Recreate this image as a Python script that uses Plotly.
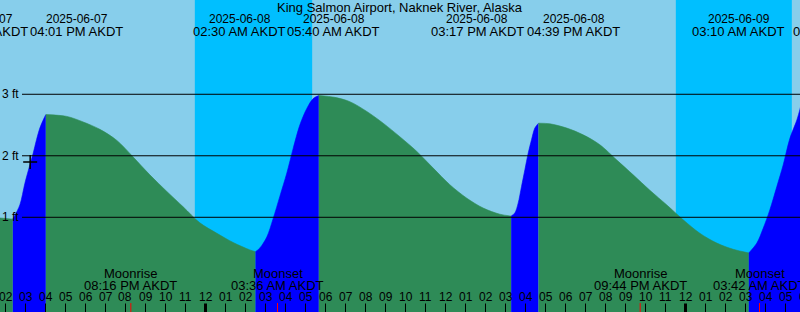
import plotly.graph_objects as go
from datetime import datetime, timedelta

TITLE = "King Salmon Airport, Naknek River, Alaska"

# Tide level samples (AKDT), feet
tide_times = [
    "2025-06-07 13:40", "2025-06-07 14:22",
    "2025-06-07 14:43", "2025-06-07 14:58", "2025-06-07 15:13", "2025-06-07 15:23",
    "2025-06-07 15:33", "2025-06-07 15:43", "2025-06-07 15:53", "2025-06-07 16:01",
    "2025-06-07 17:04", "2025-06-07 17:53", "2025-06-07 18:43", "2025-06-07 19:34",
    "2025-06-07 20:23", "2025-06-07 21:13", "2025-06-07 22:04", "2025-06-07 22:53",
    "2025-06-07 23:43", "2025-06-08 00:34", "2025-06-08 01:23", "2025-06-08 02:13",
    "2025-06-08 02:30",
    "2025-06-08 02:43", "2025-06-08 03:04", "2025-06-08 03:23", "2025-06-08 03:43",
    "2025-06-08 04:04", "2025-06-08 04:23", "2025-06-08 04:43", "2025-06-08 05:04",
    "2025-06-08 05:23", "2025-06-08 05:40",
    "2025-06-08 06:28", "2025-06-08 07:13", "2025-06-08 08:04", "2025-06-08 08:53",
    "2025-06-08 09:43", "2025-06-08 10:34", "2025-06-08 11:23", "2025-06-08 12:13",
    "2025-06-08 13:04", "2025-06-08 13:53", "2025-06-08 14:43", "2025-06-08 15:17",
    "2025-06-08 15:28", "2025-06-08 15:38", "2025-06-08 15:48", "2025-06-08 15:58",
    "2025-06-08 16:08", "2025-06-08 16:18", "2025-06-08 16:28", "2025-06-08 16:39",
    "2025-06-08 17:13", "2025-06-08 18:04", "2025-06-08 18:53", "2025-06-08 19:43",
    "2025-06-08 20:34", "2025-06-08 21:23", "2025-06-08 22:13", "2025-06-08 23:04",
    "2025-06-08 23:53", "2025-06-09 00:43", "2025-06-09 01:34", "2025-06-09 02:23",
    "2025-06-09 03:10",
    "2025-06-09 03:34", "2025-06-09 03:53", "2025-06-09 04:13", "2025-06-09 04:34",
    "2025-06-09 04:53", "2025-06-09 05:13", "2025-06-09 05:34", "2025-06-09 05:43",
    "2025-06-09 05:50",
]
tide_heights = [
    0.99, 0.97,
    1.20, 1.55, 1.85, 2.04,
    2.26, 2.45, 2.58, 2.67,
    2.64, 2.55, 2.43, 2.25,
    1.98, 1.69, 1.42, 1.17,
    0.91, 0.74, 0.59, 0.47,
    0.44,
    0.50, 0.68, 0.98, 1.34,
    1.72, 2.12, 2.50, 2.77,
    2.93, 2.98,
    2.95, 2.88, 2.72, 2.53,
    2.31, 2.07, 1.80, 1.53,
    1.31, 1.15, 1.05, 1.02,
    1.07, 1.23, 1.50, 1.77,
    2.04, 2.26, 2.45, 2.53,
    2.52, 2.45, 2.34, 2.18,
    1.93, 1.69, 1.44, 1.20,
    0.96, 0.74, 0.58, 0.48,
    0.42,
    0.58, 0.82, 1.12, 1.50,
    1.85, 2.28, 2.58, 2.75,
    2.90,
]

# High / low tide events shown across the top
event_times = ["2025-06-07 14:22", "2025-06-07 16:01", "2025-06-08 02:30",
               "2025-06-08 05:40", "2025-06-08 15:17", "2025-06-08 16:39",
               "2025-06-09 03:10", "2025-06-09 06:05"]
event_label_nudge = [-31, 31, -16, 15, -34, 35, -10, 32]

# Moon events shown along the bottom
moon_times = ["2025-06-07 20:16", "2025-06-08 03:36", "2025-06-08 21:44", "2025-06-09 03:42"]
moon_names = ["Moonrise", "Moonset", "Moonrise", "Moonset"]

# Night spans (sunset -> sunrise)
sunsets = ["2025-06-07 23:28", "2025-06-08 23:31"]
sunrises = ["2025-06-08 05:20", "2025-06-09 05:19"]

# current-time mark
now_time = ["2025-06-07 15:14"]
now_height = [1.90]

y_ticks = [1, 2, 3]
x_start = "2025-06-07 13:43:30"
x_end = "2025-06-09 05:43:30"
y_range = [-0.54, 4.533]

W, H = 800, 312
FONT = "Liberation Sans"
DAY = "#87CEEB"
NIGHT = "#00BFFF"
RISE = "#0000FF"
FALL = "#2E8B57"


def py(p):
    return 1 - p / H


def dt(s):
    fmt = "%Y-%m-%d %H:%M:%S" if s.count(":") == 2 else "%Y-%m-%d %H:%M"
    return datetime.strptime(s, fmt)


T0, T1 = dt(x_start), dt(x_end)


def px_frac(t):
    return (dt(t) - T0) / (T1 - T0)


fig = go.Figure()

# split the tide curve into rising / falling stretches at local extremes
h = tide_heights
breaks = [0]
for i in range(1, len(h) - 1):
    if (h[i] - h[i - 1]) * (h[i + 1] - h[i]) < 0:
        breaks.append(i)
breaks.append(len(h) - 1)
ybot = y_range[0] - 1
for a, b in zip(breaks[:-1], breaks[1:]):
    xs = tide_times[a:b + 1]
    ys = tide_heights[a:b + 1]
    col = RISE if ys[-1] > ys[0] else FALL
    fig.add_trace(go.Scatter(x=xs, y=[ybot] * len(xs), mode="lines",
                             line=dict(width=0, color=col), hoverinfo="skip",
                             showlegend=False))
    fig.add_trace(go.Scatter(
        x=xs, y=ys, mode="lines", fill="tonexty", fillcolor=col,
        line=dict(color=col, width=0.6, shape="spline", smoothing=0.9),
        hoverinfo="skip", showlegend=False))

fig.add_trace(go.Scatter(
    x=now_time, y=now_height, mode="markers",
    marker=dict(symbol="cross-thin", size=10, line=dict(color="black", width=1.5)),
    hoverinfo="skip", showlegend=False))

shapes = []
for s0, s1 in zip(sunsets, sunrises):
    shapes.append(dict(type="rect", xref="x", yref="paper", x0=s0, x1=s1, y0=0, y1=1,
                       fillcolor=NIGHT, line=dict(width=0), layer="below"))
for v in y_ticks:
    shapes.append(dict(type="line", xref="paper", yref="y", x0=22 / W, x1=1, y0=v, y1=v,
                       line=dict(color="black", width=1), layer="above"))

annotations = []
for v in y_ticks:
    annotations.append(dict(x=0, xref="paper", y=v, yref="y", xanchor="left",
                            yanchor="middle", text=f"{v} ft", showarrow=False,
                            font=dict(family=FONT, size=12, color="black")))

annotations.append(dict(x=0.5, xref="paper", y=py(7.3), yref="paper", text=TITLE,
                        showarrow=False, xanchor="center", yanchor="middle",
                        font=dict(family=FONT, size=13, color="black")))

for t, nud in zip(event_times, event_label_nudge):
    d = dt(t)
    for txt, yp, fs in ((d.strftime("%Y-%m-%d"), 19.3, 12),
                        (d.strftime("%I:%M %p AKDT"), 31.7, 13)):
        annotations.append(dict(x=px_frac(t), xref="paper", y=py(yp), yref="paper",
                                text=txt, xshift=nud, showarrow=False,
                                xanchor="center", yanchor="middle",
                                font=dict(family=FONT, size=fs, color="black")))

for t, name in zip(moon_times, moon_names):
    d = dt(t)
    for txt, yp in ((name, 273.3), (d.strftime("%I:%M %p AKDT"), 285.3)):
        annotations.append(dict(x=t, xref="x", y=py(yp), yref="paper", text=txt,
                                showarrow=False, xanchor="center", yanchor="middle",
                                font=dict(family=FONT, size=13, color="black")))
    shapes.append(dict(type="line", xref="x", yref="paper", x0=t, x1=t,
                       y0=0, y1=py(303), line=dict(color="red", width=1), layer="above"))

# hourly ticks and labels
hr = dt("2025-06-07 13:00")
last = dt("2025-06-09 06:00")
while hr <= last:
    midnight = hr.hour == 0
    shapes.append(dict(type="line", xref="x", yref="paper", x0=hr, x1=hr,
                       y0=0, y1=py(303.5),
                       line=dict(color="black", width=3 if midnight else 1),
                       layer="above"))
    annotations.append(dict(x=(hr - T0) / (T1 - T0), xref="paper", y=py(297.3),
                            yref="paper", text=hr.strftime("%I"), showarrow=False,
                            xanchor="center", yanchor="middle",
                            font=dict(family=FONT, size=12, color="black")))
    hr += timedelta(hours=1)

fig.update_layout(
    width=W, height=H, margin=dict(l=0, r=0, t=0, b=0),
    paper_bgcolor=DAY, plot_bgcolor=DAY,
    xaxis=dict(range=[x_start, x_end], visible=False, showgrid=False, zeroline=False,
               fixedrange=True),
    yaxis=dict(range=y_range, visible=False, showgrid=False, zeroline=False,
               fixedrange=True),
    shapes=shapes, annotations=annotations, showlegend=False,
)

fig.write_html("out.html")
